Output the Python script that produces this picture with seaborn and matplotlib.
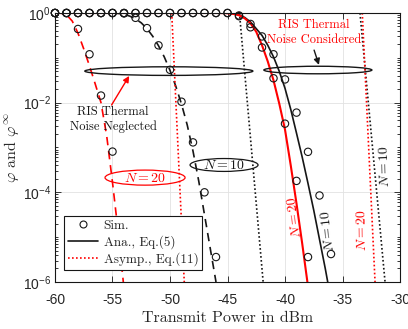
import matplotlib
matplotlib.use("Agg")
import matplotlib.pyplot as plt
import numpy as np
import seaborn as sns
from matplotlib.lines import Line2D
from matplotlib.patches import Ellipse
from matplotlib.ticker import LogLocator, NullFormatter

RED = "#ff0000"
BLACK = "#161616"
SERIF = "cmr10"

# ---- RIS thermal noise neglected (dashed = analytical) ----
ana_neg20_x = [-60, -59.5, -59, -58.5, -58, -57.5, -57, -56.5, -56, -55.5, -55, -54.5, -54]
ana_neg20_y = [1.0, 0.993, 0.912, 0.66, 0.355, 0.158, 0.066, 0.026, 0.01, 1.78e-3, 1.66e-4, 1.26e-5, 7.1e-7]
sim_neg20_x = [-60, -59, -58, -57, -56, -55]
sim_neg20_y = [1.0, 1.0, 0.44, 0.12, 0.0144, 8.1e-4]

ana_neg10_x = [-60, -56, -55, -54.5, -54, -53.5, -53, -52.5, -52, -51.5, -51, -50.5,
               -50, -49.5, -49, -48.5, -48, -47.5, -47, -46.5, -46]
ana_neg10_y = [1.0, 1.0, 0.995, 0.977, 0.933, 0.851, 0.741, 0.603, 0.447, 0.302, 0.186, 0.105,
               0.0525, 0.0234, 9.3e-3, 3.16e-3, 8.3e-4, 1.78e-4, 3.16e-5, 5.6e-6, 1.0e-6]
sim_neg10_x = [-60, -59, -58, -57, -56, -55, -54, -53, -52, -51, -50, -49, -48, -47, -46]
sim_neg10_y = [1.0, 1.0, 1.0, 1.0, 1.0, 1.0, 0.98, 0.78, 0.46, 0.19, 0.054, 0.0105, 1.3e-3, 1.0e-4, 3.6e-6]

asy_neg20_x = [-49.85, -48.76]
asy_neg20_y = [1.0, 1e-6]
asy_neg10_x = [-43.96, -41.9]
asy_neg10_y = [1.0, 1e-6]

# ---- RIS thermal noise considered (solid = analytical) ----
ana_con20_x = [-60, -46, -45.5, -45, -44.5, -44, -43.5, -43, -42.5, -42, -41.5, -41,
               -40.5, -40, -39.5, -39, -38.5, -38]
ana_con20_y = [1.0, 1.0, 0.995, 0.989, 0.955, 0.891, 0.759, 0.589, 0.38, 0.191, 0.0832, 0.0316,
               9.55e-3, 2.51e-3, 3.98e-4, 5.62e-5, 7.08e-6, 7.94e-7]
sim_con20_x = [-60, -59, -58, -57, -56, -55, -54, -53, -52, -51, -50, -49, -48, -47, -46, -45,
               -44, -43, -42, -41, -40, -39, -38]
sim_con20_y = [1.0, 1.0, 1.0, 1.0, 1.0, 1.0, 1.0, 1.0, 1.0, 1.0, 1.0, 1.0, 1.0, 1.0, 1.0, 1.0,
               0.88, 0.48, 0.17, 0.035, 3.4e-3, 1.8e-4, 3.6e-6]

ana_con10_x = [-60, -46, -45.5, -45, -44.5, -44, -43.5, -43, -42.5, -42, -41.5, -41, -40.5,
               -40, -39.5, -39, -38.5, -38, -37.5, -37, -36.5, -36]
ana_con10_y = [1.0, 1.0, 0.995, 0.989, 0.966, 0.912, 0.794, 0.631, 0.447, 0.316, 0.191, 0.105,
               0.0501, 0.0209, 7.08e-3, 2.09e-3, 6.03e-4, 1.58e-4, 3.98e-5, 8.91e-6, 2.0e-6, 3.98e-7]
sim_con10_x = [-60, -59, -58, -57, -56, -55, -54, -53, -52, -51, -50, -49, -48, -47, -46, -45,
               -44, -43, -42, -41, -40, -39, -38, -37, -36]
sim_con10_y = [1.0, 1.0, 1.0, 1.0, 1.0, 1.0, 1.0, 1.0, 1.0, 1.0, 1.0, 1.0, 1.0, 1.0, 1.0, 1.0,
               0.85, 0.57, 0.30, 0.12, 0.033, 6e-3, 8e-4, 8.5e-5, 4.2e-6]

asy_con20_x = [-33.28, -32.17]
asy_con20_y = [1.0, 1e-6]
asy_con10_x = [-33.48, -31.3]
asy_con10_y = [1.0, 1e-6]

x_ticks = [-60, -55, -50, -45, -40, -35, -30]
y_ticks = [1e-6, 1e-4, 1e-2, 1.0]
y_tick_labels = [r"$\mathregular{10^{-6}}$", r"$\mathregular{10^{-4}}$",
                 r"$\mathregular{10^{-2}}$", r"$\mathregular{10^{0}}$"]

DASH = (0, (5, 3.5))
DOT = (0, (1, 1.4))


def line(ax, x, y, color, ls, lw=1.2):
    sns.lineplot(x=x, y=y, ax=ax, color=color, linestyle=ls, linewidth=lw,
                 estimator=None, sort=False)


def sims(ax, x, y):
    sns.scatterplot(x=x, y=y, ax=ax, marker="o", s=28, facecolors="none",
                    edgecolor=BLACK, linewidth=0.8, clip_on=False, zorder=5)


def main() -> int:
    sns.set_style("ticks")
    plt.rcParams["font.family"] = ["Liberation Sans", "DejaVu Sans"]
    plt.rcParams["mathtext.fontset"] = "cm"
    plt.rcParams["axes.unicode_minus"] = False

    fig = plt.figure(figsize=(4.08, 3.29), dpi=100)
    ax = fig.add_axes([0.1348, 0.1429, 0.8456, 0.8176])
    ax.set_yscale("log")

    # black (N = 10) first, red (N = 20) on top
    line(ax, ana_neg10_x, ana_neg10_y, BLACK, DASH)
    line(ax, asy_neg10_x, asy_neg10_y, BLACK, DOT)
    line(ax, ana_con10_x, ana_con10_y, BLACK, "-")
    line(ax, asy_con10_x, asy_con10_y, BLACK, DOT)
    line(ax, ana_neg20_x, ana_neg20_y, RED, DASH)
    line(ax, asy_neg20_x, asy_neg20_y, RED, DOT)
    line(ax, ana_con20_x, ana_con20_y, RED, "-", lw=1.5)
    line(ax, asy_con20_x, asy_con20_y, RED, DOT)

    for sx, sy in [(sim_neg20_x, sim_neg20_y), (sim_neg10_x, sim_neg10_y),
                   (sim_con20_x, sim_con20_y), (sim_con10_x, sim_con10_y)]:
        sims(ax, sx, sy)

    ax.set_xlim(-60, -30)
    ax.set_ylim(1e-6, 1.0)
    ax.set_xticks(x_ticks)
    ax.set_xticklabels([str(t) for t in x_ticks])
    ax.set_yticks(y_ticks)
    ax.set_yticklabels(y_tick_labels)
    ax.yaxis.set_minor_locator(LogLocator(base=10, subs=np.arange(1, 10), numticks=100))
    ax.yaxis.set_minor_formatter(NullFormatter())
    ax.tick_params(which="both", direction="in", top=True, right=True, labelsize=10,
                   color=BLACK, width=0.6)
    ax.tick_params(which="major", length=4)
    ax.tick_params(which="minor", length=2)
    ax.tick_params(axis="x", pad=8)
    ax.tick_params(axis="y", pad=3)
    ax.grid(True, which="major", color="#e2e2e2", linewidth=0.6)
    ax.set_axisbelow(True)
    for sp in ax.spines.values():
        sp.set_color(BLACK)
        sp.set_linewidth(0.8)

    ax.set_xlabel("Transmit Power in dBm", fontfamily=SERIF, fontsize=11.5, labelpad=3)
    ax.set_ylabel(r"$\varphi$ and $\varphi^{\infty}$", fontfamily=SERIF, fontsize=11.5)
    ax.yaxis.set_label_coords(-0.098, 0.5)

    tr = ax.transAxes
    # ellipses marking the two groups of curves
    ax.add_patch(Ellipse((0.330, 0.784), 0.487, 0.032, transform=tr, fill=False,
                         edgecolor=BLACK, lw=1.0, zorder=6))
    ax.add_patch(Ellipse((0.762, 0.788), 0.313, 0.028, transform=tr, fill=False,
                         edgecolor=BLACK, lw=1.0, zorder=6))
    ax.add_patch(Ellipse((0.261, 0.388), 0.232, 0.056, transform=tr, fill=False,
                         edgecolor=RED, lw=0.9, zorder=6))
    ax.add_patch(Ellipse((0.490, 0.435), 0.197, 0.048, transform=tr, fill=False,
                         edgecolor=BLACK, lw=0.9, zorder=6))
    ax.text(0.261, 0.388, r"$N = 20$", transform=tr, color=RED, fontsize=10,
            ha="center", va="center", zorder=7)
    ax.text(0.490, 0.435, r"$N = 10$", transform=tr, color=BLACK, fontsize=10,
            ha="center", va="center", zorder=7)

    ax.text(0.168, 0.604, "RIS Thermal\nNoise Neglected", transform=tr, color=BLACK,
            fontfamily=SERIF, fontsize=9, ha="center", va="center", linespacing=1.25, zorder=7)
    ax.annotate("", xy=(0.215, 0.766), xytext=(0.164, 0.658), xycoords=tr, textcoords=tr,
                arrowprops=dict(arrowstyle="-|>", color=RED, lw=1.0,
                                mutation_scale=9, shrinkA=0, shrinkB=0), zorder=7)

    ax.text(0.751, 0.927, "RIS Thermal\nNoise Considered", transform=tr, color=RED,
            fontfamily=SERIF, fontsize=9, ha="center", va="center", linespacing=1.25, zorder=7)
    ax.annotate("", xy=(0.765, 0.807), xytext=(0.751, 0.862), xycoords=tr, textcoords=tr,
                arrowprops=dict(arrowstyle="-|>", color=BLACK, lw=1.0,
                                mutation_scale=9, shrinkA=0, shrinkB=0), zorder=7)

    # rotated curve labels
    for (px, py, txt, col, rot) in [(0.693, 0.240, r"$N = 20$", RED, 98),
                                    (0.791, 0.190, r"$N = 10$", BLACK, 97),
                                    (0.890, 0.193, r"$N = 20$", RED, 91),
                                    (0.954, 0.431, r"$N = 10$", BLACK, 92)]:
        ax.text(px, py, txt, transform=tr, color=col, fontsize=10, rotation=rot,
                rotation_mode="anchor", ha="center", va="center", zorder=7)

    handles = [
        Line2D([], [], marker="o", ls="none", mfc="none", mec=BLACK, ms=5, mew=0.8, label="Sim."),
        Line2D([], [], color=BLACK, lw=1.2, label="Ana., Eq.(5)"),
        Line2D([], [], color=RED, lw=1.2, ls=DOT, label="Asymp., Eq.(11)"),
    ]
    leg = ax.legend(handles=handles, loc="lower left", bbox_to_anchor=(0.026, 0.045),
                    borderaxespad=0, prop={"family": SERIF, "size": 9.5}, fancybox=False,
                    framealpha=1, edgecolor=BLACK, handlelength=2.3, handletextpad=0.4,
                    labelspacing=0.25, borderpad=0.3)
    leg.get_frame().set_linewidth(0.8)
    leg.set_zorder(10)

    fig.savefig("out.png", dpi=100)
    plt.close(fig)
    return 0


if __name__ == "__main__":
    raise SystemExit(main())
